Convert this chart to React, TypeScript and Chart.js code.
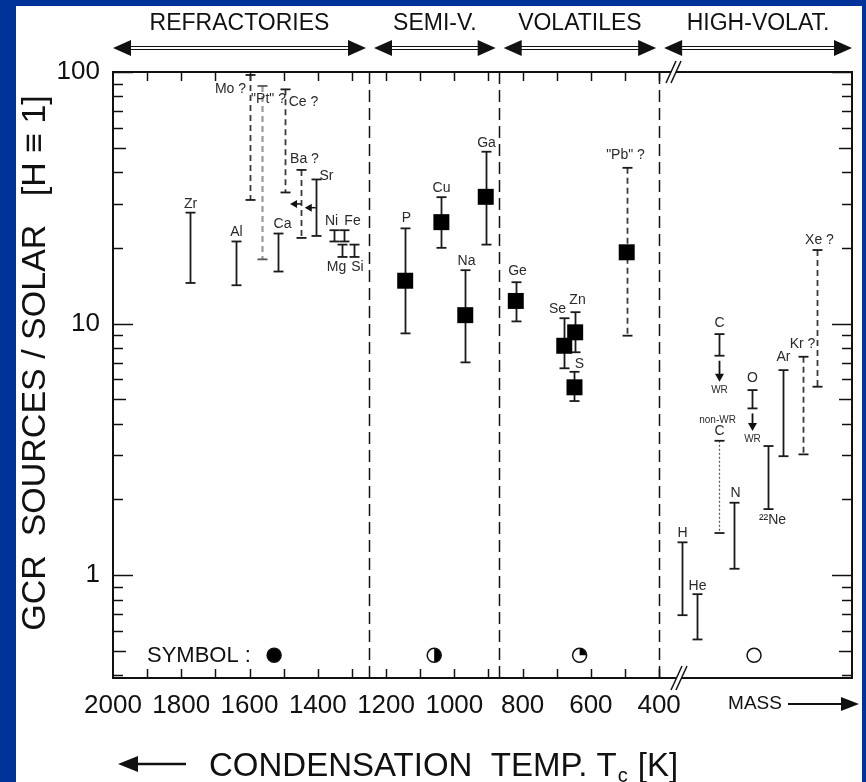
import React, { useEffect, useRef } from "react";
import { Chart, registerables } from "chart.js";

Chart.register(...registerables);

const FONT = "'Liberation Sans', Arial, Helvetica, sans-serif";
const BLUE = "#003399";
const INK = "#111111";

// ---------------- data ----------------
const tempTickLabels = [2000, 1800, 1600, 1400, 1200, 1000, 800, 600, 400];
const tempMinorTicks = [1900, 1800, 1700, 1600, 1500, 1400, 1300, 1200, 1100, 1000, 900, 800, 700, 600, 500, 400];
const yTickLabels = [1, 10, 100];
const groupNames = ["REFRACTORIES", "SEMI-V.", "VOLATILES", "HIGH-VOLAT."];
const groupEdges = [2000, 1250, 870, 400, -165];
const separatorTemps = [1250, 870, 400];

const elementNames = [
  "Zr", "Al", "Mo ?", "\"Pt\" ?", "Ce ?", "Ca", "Ba ?", "Sr", "Ni", "Fe", "Mg", "Si",
  "P", "Cu", "Ga", "Na", "Ge", "Se", "Zn", "S", "\"Pb\" ?",
  "H", "He", "C", "C", "N", "O", "\u00B2\u00B2Ne", "Ar", "Kr ?", "Xe ?",
];
// condensation temperature (K); high-volatiles placed along the mass axis beyond 400
const elementPos = [
  1774, 1640, 1598, 1564, 1495, 1518, 1449, 1406, 1352, 1323, 1329, 1295,
  1144, 1038, 908, 968, 820, 678, 646, 648, 495,
  332, 290, 226, 226, 180, 127, 82, 36, -21, -62,
];
const elementLow = [
  14.5, 14.2, 31.0, 18.0, 33.2, 16.1, 21.9, 22.3, 21.2, 21.2, 18.4, 18.4,
  9.14, 20.0, 20.6, 7.01, 10.2, 6.64, 7.69, 4.92, 8.95,
  0.693, 0.555, 7.45, 1.47, 1.06, 4.6, 1.83, 2.97, 3.02, 5.61,
];
const elementHigh = [
  27.6, 21.2, 97.3, 88.0, 85.3, 22.8, 40.8, 37.4, 23.5, 23.5, 20.6, 20.6,
  23.9, 31.8, 48.2, 16.3, 14.6, 10.5, 11.1, 6.43, 41.6,
  1.35, 0.84, 9.08, 3.42, 1.94, 5.44, 3.26, 6.53, 7.38, 19.6,
];
const elementCentre: (number | null)[] = [
  null, null, null, null, null, null, null, null, null, null, null, null,
  14.8, 25.3, 31.9, 10.8, 12.3, 8.16, 9.23, 5.58, 19.2,
  null, null, null, null, null, null, null, null, null, null,
];
const wrArrowElements = [23, 26];
const wrArrowTips = [5.87, 3.74];
const limitArrowElements = [6, 7];
const symbolPositions = [1528, 1059, 633, 122];
const symbolKinds = ["full", "half", "quarter", "open"];
const symbolLevel = 0.48;

// ---------------- styles ----------------
const elementLineStyle = [
  "solid", "solid", "dashed", "light", "dashed", "solid", "dashed", "solid", "solid", "solid", "solid", "solid",
  "solid", "solid", "solid", "solid", "solid", "solid", "solid", "solid", "dashed",
  "solid", "solid", "solid", "dotted", "solid", "solid", "solid", "solid", "dashed", "dashed",
];
// [dx, dy, anchor]
const labelOffsets: [number, number, string][] = [
  [0, -9, "top"], [0, -9, "top"], [-20, 14, "top"], [6, 13, "top"], [18, 13, "top"], [4, -9, "top"],
  [3, -11, "top"], [10, -3, "top"], [-3, -9, "top"], [8, -9, "top"], [-6, 10, "bottom"], [3, 10, "bottom"],
  [1, -10, "top"], [0, -9, "top"], [0, -9, "top"], [1, -9, "top"], [1, -11, "top"], [-7, -9, "top"],
  [2, -12, "top"], [5, -8, "top"], [-2, -13, "top"],
  [0, -9, "top"], [0, -8, "top"], [0, -11, "top"], [0, -10, "top"], [1, -10, "top"], [0, -12, "top"],
  [4, 11, "bottom"], [0, -13, "top"], [-1, -13, "top"], [2, -10, "top"],
];

function arrowHead(ctx: CanvasRenderingContext2D, tx: number, ty: number, dir: string, len: number, half: number) {
  ctx.beginPath();
  ctx.moveTo(tx, ty);
  if (dir === "left") { ctx.lineTo(tx + len, ty - half); ctx.lineTo(tx + len, ty + half); }
  else if (dir === "right") { ctx.lineTo(tx - len, ty - half); ctx.lineTo(tx - len, ty + half); }
  else { ctx.lineTo(tx - half, ty - len); ctx.lineTo(tx + half, ty - len); }
  ctx.closePath();
  ctx.fill();
}

function seg(ctx: CanvasRenderingContext2D, x1: number, y1: number, x2: number, y2: number) {
  ctx.beginPath();
  ctx.moveTo(x1, y1);
  ctx.lineTo(x2, y2);
  ctx.stroke();
}

const decor = {
  id: "decor",
  beforeDraw(chart: any) {
    const ctx: CanvasRenderingContext2D = chart.ctx;
    ctx.save();
    ctx.fillStyle = BLUE;
    ctx.fillRect(0, 0, chart.width, chart.height);
    ctx.fillStyle = "#ffffff";
    ctx.fillRect(16, 6, chart.width - 20, chart.height - 6);
    ctx.restore();
  },
  beforeDatasetsDraw(chart: any) {
    const ctx: CanvasRenderingContext2D = chart.ctx;
    const a = chart.chartArea;
    const xs = chart.scales.x;
    const ys = chart.scales.y;
    const X = (v: number) => xs.getPixelForValue(v);
    const Y = (v: number) => ys.getPixelForValue(v);
    ctx.save();
    ctx.strokeStyle = INK;
    ctx.fillStyle = INK;

    // separators
    ctx.lineWidth = 1.5;
    ctx.setLineDash([12, 6]);
    separatorTemps.forEach((t) => {
      const x = Math.round(X(t)) + 0.5;
      seg(ctx, x, a.top, x, a.bottom);
    });
    ctx.setLineDash([]);

    // x ticks (inside, bottom and top)
    ctx.lineWidth = 1.5;
    tempMinorTicks.forEach((t) => {
      const x = Math.round(X(t)) + 0.5;
      seg(ctx, x, a.bottom, x, a.bottom - 9);
      seg(ctx, x, a.top, x, a.top + 9);
    });
    // y ticks (inside, left and right)
    for (let e = -1; e <= 2; e++) {
      for (let m = 1; m <= 9; m++) {
        const v = m * Math.pow(10, e);
        if (v < ys.min - 1e-9 || v > ys.max + 1e-9) continue;
        const y = Math.round(Y(v)) + 0.5;
        const len = m === 1 ? 20 : m === 5 ? 13 : 10;
        seg(ctx, a.left, y, a.left + len, y);
        seg(ctx, a.right, y, a.right - len, y);
      }
    }
    // frame
    ctx.lineWidth = 2;
    ctx.strokeRect(a.left, a.top, a.right - a.left, a.bottom - a.top);

    // error bars
    elementNames.forEach((name, i) => {
      const x = Math.round(X(elementPos[i])) + 0.5;
      const yt = Y(elementHigh[i]);
      const yb = Y(elementLow[i]);
      const st = elementLineStyle[i];
      let col = "#1a1a1a";
      ctx.lineWidth = 1.8;
      if (st === "dashed") { ctx.setLineDash([6, 4]); col = "#3a3a3a"; }
      else if (st === "light") { ctx.setLineDash([6, 4]); col = "#9a9a9a"; ctx.lineWidth = 2.2; }
      else if (st === "dotted") { ctx.setLineDash([2, 2]); col = "#555"; ctx.lineWidth = 1.2; }
      else ctx.setLineDash([]);
      ctx.strokeStyle = col;
      seg(ctx, x, yt, x, yb);
      ctx.setLineDash([]);
      ctx.lineWidth = 1.8;
      ctx.strokeStyle = st === "light" ? "#555" : "#1a1a1a";
      seg(ctx, x - 5, yt, x + 5, yt);
      seg(ctx, x - 5, yb, x + 5, yb);

      // label
      const [dx, dy, anchor] = labelOffsets[i];
      ctx.fillStyle = "#2a2a2a";
      ctx.font = `14px ${FONT}`;
      ctx.textAlign = "center";
      ctx.textBaseline = "middle";
      ctx.fillText(name, x + dx, (anchor === "top" ? yt : yb) + dy);
    });

    // extra small annotations
    ctx.font = `10px ${FONT}`;
    ctx.fillStyle = "#2a2a2a";
    {
      const i = 24;
      ctx.fillText("non-WR", X(elementPos[i]) - 1, Y(elementHigh[i]) - 21);
    }
    // WR arrows
    ctx.strokeStyle = "#111";
    ctx.fillStyle = "#111";
    wrArrowElements.forEach((i, k) => {
      const x = Math.round(X(elementPos[i])) + 0.5;
      const y0 = Y(elementLow[i]) + 5;
      const y1 = Y(wrArrowTips[k]);
      ctx.lineWidth = 1.8;
      seg(ctx, x, y0, x, y1 - 6);
      arrowHead(ctx, x, y1, "down", 8, 4.5);
      ctx.font = `10px ${FONT}`;
      ctx.fillStyle = "#2a2a2a";
      ctx.fillText("WR", x, y1 + 8);
      ctx.fillStyle = "#111";
    });
    // limit arrows (towards higher temperature)
    limitArrowElements.forEach((i) => {
      const x = X(elementPos[i]);
      const y = Y(Math.sqrt(elementLow[i] * elementHigh[i]));
      ctx.lineWidth = 1.5;
      seg(ctx, x, y, x - 6, y);
      arrowHead(ctx, x - 11, y, "left", 7, 4);
    });

    // symbols
    const sy = Y(symbolLevel);
    symbolPositions.forEach((t, i) => {
      const x = X(t);
      const r = 7;
      ctx.lineWidth = 1.5;
      ctx.strokeStyle = "#111";
      ctx.fillStyle = "#fff";
      ctx.beginPath();
      ctx.arc(x, sy, r, 0, Math.PI * 2);
      ctx.fill();
      ctx.fillStyle = "#000";
      const k = symbolKinds[i];
      if (k === "full") {
        ctx.beginPath(); ctx.arc(x, sy, r, 0, Math.PI * 2); ctx.fill();
      } else if (k === "half") {
        ctx.beginPath(); ctx.arc(x, sy, r, -Math.PI / 2, Math.PI / 2); ctx.closePath(); ctx.fill();
      } else if (k === "quarter") {
        ctx.beginPath(); ctx.moveTo(x, sy); ctx.arc(x, sy, r, -Math.PI / 2, 0); ctx.closePath(); ctx.fill();
      }
      ctx.beginPath(); ctx.arc(x, sy, r, 0, Math.PI * 2); ctx.stroke();
    });
    ctx.font = `22px ${FONT}`;
    ctx.fillStyle = INK;
    ctx.textAlign = "left";
    ctx.textBaseline = "middle";
    ctx.fillText("SYMBOL :", 147, sy + 1);
    ctx.restore();
  },
  afterDraw(chart: any) {
    const ctx: CanvasRenderingContext2D = chart.ctx;
    const a = chart.chartArea;
    const xs = chart.scales.x;
    const X = (v: number) => xs.getPixelForValue(v);
    ctx.save();
    ctx.fillStyle = INK;
    ctx.strokeStyle = INK;

    // group headers
    const ay = 48;
    groupNames.forEach((g, i) => {
      const l = X(groupEdges[i]) + (i === 0 ? 0 : 5);
      const r = X(groupEdges[i + 1]) - (i === groupNames.length - 1 ? 0 : 3);
      ctx.lineWidth = 1.2;
      seg(ctx, l + 14, ay - 1.5, r - 14, ay - 1.5);
      seg(ctx, l + 14, ay + 1.5, r - 14, ay + 1.5);
      arrowHead(ctx, l, ay, "left", 18, 8);
      arrowHead(ctx, r, ay, "right", 18, 8);
      ctx.font = `23px ${FONT}`;
      ctx.textAlign = "center";
      ctx.textBaseline = "middle";
      ctx.fillText(g, (l + r) / 2, 24);
    });

    // axis break marks
    const brk = (x1: number, y1: number, x2: number, y2: number) => {
      ctx.fillStyle = "#fff";
      ctx.beginPath();
      ctx.moveTo(x1, y1); ctx.lineTo(x2, y2); ctx.lineTo(x2 + 5, y2); ctx.lineTo(x1 + 5, y1); ctx.closePath();
      ctx.fill();
      ctx.lineWidth = 1.5;
      seg(ctx, x1, y1, x2, y2);
      seg(ctx, x1 + 5, y1, x2 + 5, y2);
    };
    brk(671, a.bottom + 12, 682, a.bottom - 12);
    brk(666, a.top + 11, 676, a.top - 11);

    // MASS arrow
    ctx.fillStyle = INK;
    ctx.font = `19px ${FONT}`;
    ctx.textAlign = "center";
    ctx.textBaseline = "middle";
    ctx.fillText("MASS", 755, 704);
    ctx.lineWidth = 2;
    seg(ctx, 788, 704, 845, 704);
    arrowHead(ctx, 859, 704, "right", 18, 7);

    // x title
    const ty = 764;
    ctx.lineWidth = 2.5;
    seg(ctx, 132, ty, 186, ty);
    arrowHead(ctx, 118, ty, "left", 20, 8);
    ctx.font = `33px ${FONT}`;
    ctx.textAlign = "left";
    ctx.textBaseline = "alphabetic";
    const base = 776;
    const main = "CONDENSATION  TEMP. T";
    ctx.fillText(main, 209, base);
    const w1 = ctx.measureText(main).width;
    ctx.font = `20px ${FONT}`;
    ctx.fillText("c", 209 + w1 + 1, base + 6);
    const w2 = ctx.measureText("c").width;
    ctx.font = `33px ${FONT}`;
    ctx.fillText(" [K]", 209 + w1 + w2 + 2, base);

    // y title
    ctx.translate(36, 363);
    ctx.rotate(-Math.PI / 2);
    ctx.font = `34px ${FONT}`;
    ctx.textAlign = "center";
    ctx.textBaseline = "middle";
    ctx.fillText("GCR  SOURCES / SOLAR   [H \u2261 1]", 0, 0, 554);
    ctx.restore();
  },
};

export default function App() {
  const ref = useRef<HTMLCanvasElement>(null);
  useEffect(() => {
    const canvas = ref.current;
    if (!canvas) return;
    const squares = elementPos
      .map((x, i) => (elementCentre[i] == null ? null : { x, y: elementCentre[i] as number }))
      .filter((p) => p !== null) as { x: number; y: number }[];
    const chart = new Chart(canvas, {
      type: "scatter",
      data: {
        datasets: [
          {
            data: squares,
            pointStyle: "rect",
            pointRadius: 11.3,
            pointHoverRadius: 11.3,
            backgroundColor: "#000",
            borderColor: "#000",
            borderWidth: 0,
          },
        ],
      },
      options: {
        responsive: false,
        animation: false,
        events: [],
        layout: { padding: { top: 72, right: 14, left: 0, bottom: 0 } },
        plugins: { legend: { display: false }, tooltip: { enabled: false } },
        scales: {
          x: {
            type: "linear",
            reverse: true,
            min: -165,
            max: 2000,
            afterBuildTicks: (s: any) => {
              s.ticks = tempTickLabels.map((v) => ({ value: v }));
            },
            afterFit: (s: any) => {
              s.height = 104;
            },
            grid: { display: false, drawTicks: false },
            border: { display: false },
            ticks: {
              font: { family: FONT, size: 26 },
              color: INK,
              padding: 12,
              maxRotation: 0,
              autoSkip: false,
              callback: (v: any) => String(v),
            },
          },
          y: {
            type: "logarithmic",
            min: 0.39,
            max: 100,
            afterBuildTicks: (s: any) => {
              s.ticks = yTickLabels.map((v) => ({ value: v }));
            },
            afterFit: (s: any) => {
              s.width = 113;
            },
            grid: { display: false, drawTicks: false },
            border: { display: false },
            ticks: {
              font: { family: FONT, size: 26 },
              color: INK,
              padding: 13,
              callback: (v: any) => String(v),
            },
          },
        },
      },
      plugins: [decor],
    });
    return () => chart.destroy();
  }, []);
  return (
    <div style={{ position: "fixed", left: 0, top: 0, width: 866, height: 782, background: BLUE }}>
      <canvas ref={ref} width={866} height={782} style={{ display: "block", width: 866, height: 782 }} />
    </div>
  );
}
